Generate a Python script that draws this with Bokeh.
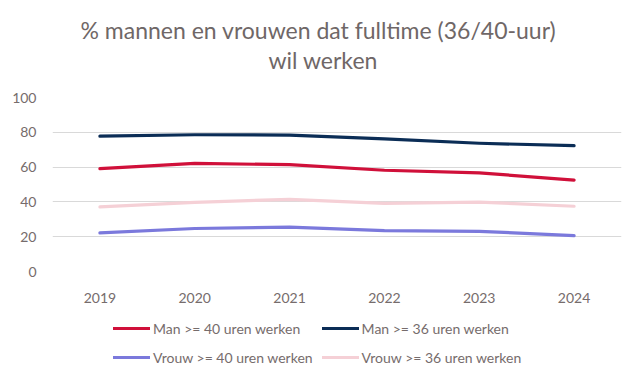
from bokeh.plotting import figure
from bokeh.layouts import column
from bokeh.models import Title, Legend, LegendItem, FixedTicker, FactorRange, Range1d
from bokeh.embed import file_html
from bokeh.resources import INLINE

years = ["2019", "2020", "2021", "2022", "2023", "2024"]
man_40 = [59.1, 62.1, 61.4, 58.2, 56.7, 52.5]
man_36 = [77.8, 78.6, 78.4, 76.2, 73.7, 72.3]
vrouw_40 = [22.2, 24.7, 25.5, 23.5, 23.1, 20.6]
vrouw_36 = [37.1, 39.7, 41.5, 39.2, 39.9, 37.5]
series_names = ["Man >= 40 uren werken", "Man >= 36 uren werken",
                "Vrouw >= 40 uren werken", "Vrouw >= 36 uren werken"]
y_ticks = [0, 20, 40, 60, 80, 100]

FONT = "Lato"
TXT = "#766c6c"
series = [man_40, man_36, vrouw_40, vrouw_36]
colors = ["#d0103a", "#0b2d56", "#7b79dc", "#f5d0d6"]

# main chart
p = figure(width=624, height=305, output_backend="svg", toolbar_location=None,
           x_range=FactorRange(factors=years, range_padding=0),
           y_range=Range1d(0, 100),
           min_border_left=52, min_border_right=3, min_border_top=97, min_border_bottom=32)
p.title = None
p.outline_line_color = None
p.border_fill_color = "white"
for vals, c in zip(series, colors):
    p.line(years, vals, line_color=c, line_width=3.2, line_cap="round", line_join="round")

p.xgrid.grid_line_color = None
p.ygrid.grid_line_color = "#d9d9d9"
p.ygrid.grid_line_width = 1
p.yaxis.ticker = FixedTicker(ticks=y_ticks)
for ax in (p.xaxis[0], p.yaxis[0]):
    ax.axis_line_color = None
    ax.major_tick_line_color = None
    ax.minor_tick_line_color = None
    ax.major_label_text_font = FONT
    ax.major_label_text_font_size = "14px"
    ax.major_label_text_color = TXT
p.xaxis.major_label_standoff = 15
p.yaxis.major_label_standoff = 10

spacer = Title(text=" ", text_font_size="14px", standoff=6)
t2 = Title(text="wil werken", align="left", offset=216, text_font=FONT, text_font_size="23px",
           text_color="#6f6767", text_font_style="normal", standoff=0)
t1 = Title(text="% mannen en vrouwen dat fulltime (36/40-uur)", align="left", offset=28,
           text_font=FONT, text_font_size="23px", text_color="#6f6767",
           text_font_style="normal", standoff=0)
p.add_layout(spacer, "above")
p.add_layout(t2, "above")
p.add_layout(t1, "above")

# legend strip (same series, kept outside the visible range so only the key shows)
q = figure(width=624, height=63, output_backend="svg", toolbar_location=None,
           x_range=FactorRange(factors=years, range_padding=0), y_range=Range1d(1000, 1100),
           x_axis_type=None, y_axis_type=None,
           min_border_left=0, min_border_right=0, min_border_top=0, min_border_bottom=0)
q.outline_line_color = None
q.grid.grid_line_color = None
q.border_fill_color = "white"
rs = [q.line(years, vals, line_color=c, line_width=3.2, line_cap="round")
      for vals, c in zip(series, colors)]
legend = Legend(items=[LegendItem(label=n, renderers=[r]) for n, r in zip(series_names, rs)],
                orientation="horizontal", ncols=2, location=(61, 1), padding=0, margin=0, spacing=9,
                glyph_width=37, glyph_height=20, label_height=20, label_standoff=3,
                label_text_font=FONT, label_text_font_size="14px", label_text_color=TXT,
                background_fill_alpha=0, border_line_color=None)
q.add_layout(legend, "center")

open("out.html", "w").write(file_html(column(p, q, spacing=0), INLINE))
